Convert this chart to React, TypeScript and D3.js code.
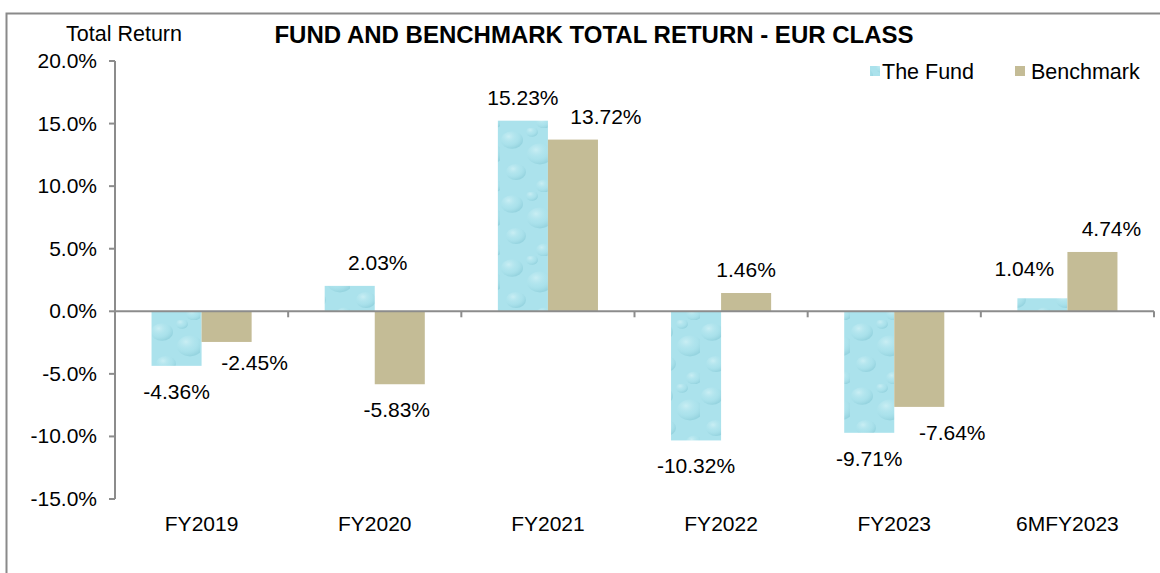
import React from "react";
import * as d3 from "d3";

const categories = ["FY2019", "FY2020", "FY2021", "FY2022", "FY2023", "6MFY2023"];
const fundValues = [-4.36, 2.03, 15.23, -10.32, -9.71, 1.04];
const benchmarkValues = [-2.45, -5.83, 13.72, 1.46, -7.64, 4.74];
const seriesNames = ["The Fund", "Benchmark"];
const yTicks = [20, 15, 10, 5, 0, -5, -10, -15];

// label nudges (layout only, px)
const fundLabelDx = [0, 28, 0, 0, 0, -18];
const fundLabelDy = [0, 0, 0, 0, 0, -6];
const benchLabelDx = [28, -3, 33, 0, 33, 19];
const benchLabelDy = [-5, 0, 0, 0, 0, 0];

const W = 1160;
const H = 573;
const FONT = "'Liberation Sans', Arial, sans-serif";
const BENCH = "#c4bc96";
const AXIS = "#8c8c8c";

export default function App() {
  const left = 115;
  const right = 1154;
  const y = d3.scaleLinear().domain([-15, 20]).range([499, 61]);
  const x = d3.scaleBand().domain(categories).range([left, right]).paddingInner(0).paddingOuter(0);
  const bw = x.bandwidth();
  const barW = bw * 0.289;
  const gapOuter = (bw - 2 * barW) / 2;
  const fmt = (v: number) => v.toFixed(2) + "%";

  const bubbles = [
    { cx: 12, cy: 12, r: 11 },
    { cx: 40, cy: 26, r: 13 },
    { cx: 16, cy: 44, r: 10 },
    { cx: 44, cy: 58, r: 8 },
    { cx: 32, cy: 4, r: 6 },
  ];

  return (
    <svg width={W} height={H} style={{ display: "block", position: "absolute", left: 0, top: 0 }} fontFamily={FONT}>
      <defs>
        <radialGradient id="drop" cx="0.35" cy="0.3" r="0.7">
          <stop offset="0" stopColor="#d6f3f7" stopOpacity="0.7" />
          <stop offset="0.6" stopColor="#ade3ec" stopOpacity="0.3" />
          <stop offset="1" stopColor="#86c9d6" stopOpacity="0.55" />
        </radialGradient>
        <pattern id="water" patternUnits="userSpaceOnUse" width="50" height="64">
          <rect width="50" height="64" fill="#abe2ec" />
          {bubbles.map((b, i) => (
            <ellipse key={i} cx={b.cx} cy={b.cy} rx={b.r} ry={b.r * 0.8} fill="url(#drop)" />
          ))}
        </pattern>
      </defs>

      <rect x={6.5} y={13.5} width={W} height={H} fill="#fff" stroke="#8a8a8a" strokeWidth={2} />

      <text x={594} y={43} textAnchor="middle" fontSize={24} fontWeight="bold" fill="#000">
        FUND AND BENCHMARK TOTAL RETURN - EUR CLASS
      </text>
      <text x={124} y={41} textAnchor="middle" fontSize={21.5} fill="#000">
        Total Return
      </text>

      {/* y axis */}
      <line x1={left} x2={left} y1={y(20)} y2={y(-15)} stroke={AXIS} strokeWidth={2} />
      {yTicks.map((t) => (
        <g key={t}>
          <line x1={left - 6} x2={left} y1={y(t)} y2={y(t)} stroke={AXIS} strokeWidth={2} />
          <text x={97} y={y(t) + 7} textAnchor="end" fontSize={21} fill="#000">
            {t.toFixed(1) + "%"}
          </text>
        </g>
      ))}

      {/* bars */}
      {categories.map((c, i) => {
        const x0 = (x(c) as number) + gapOuter;
        const fv = fundValues[i];
        const bv = benchmarkValues[i];
        return (
          <g key={c}>
            <rect x={x0} y={y(Math.max(0, fv))} width={barW} height={Math.abs(y(fv) - y(0))} fill="url(#water)" />
            <rect x={x0 + barW} y={y(Math.max(0, bv))} width={barW} height={Math.abs(y(bv) - y(0))} fill={BENCH} />
          </g>
        );
      })}

      {/* x axis */}
      <line x1={left} x2={right} y1={y(0)} y2={y(0)} stroke={AXIS} strokeWidth={2} />
      {categories.concat(["__end"]).map((c, i) => {
        const xx = i < categories.length ? (x(c) as number) : right;
        return <line key={c} x1={xx} x2={xx} y1={y(0)} y2={y(0) + 6} stroke={AXIS} strokeWidth={2} />;
      })}
      {categories.map((c) => (
        <text key={c} x={(x(c) as number) + bw / 2} y={531} textAnchor="middle" fontSize={21} fill="#000">
          {c}
        </text>
      ))}

      {/* labels */}
      {categories.map((c, i) => {
        const x0 = (x(c) as number) + gapOuter;
        const fv = fundValues[i];
        const bv = benchmarkValues[i];
        const fy = fv >= 0 ? y(fv) - 16 : y(fv) + 33;
        const by = bv >= 0 ? y(bv) - 16 : y(bv) + 33;
        return (
          <g key={c} fontSize={21} fill="#000" textAnchor="middle">
            <text x={x0 + barW / 2 + fundLabelDx[i]} y={fy + fundLabelDy[i]}>{fmt(fv)}</text>
            <text x={x0 + barW * 1.5 + benchLabelDx[i]} y={by + benchLabelDy[i]}>{fmt(bv)}</text>
          </g>
        );
      })}

      {/* legend */}
      <rect x={870} y={66} width={10} height={10} fill="url(#water)" />
      <text x={882} y={79} fontSize={21.5} fill="#000">{seriesNames[0]}</text>
      <rect x={1015} y={66} width={10} height={10} fill={BENCH} />
      <text x={1031} y={79} fontSize={21.5} fill="#000">{seriesNames[1]}</text>
    </svg>
  );
}
